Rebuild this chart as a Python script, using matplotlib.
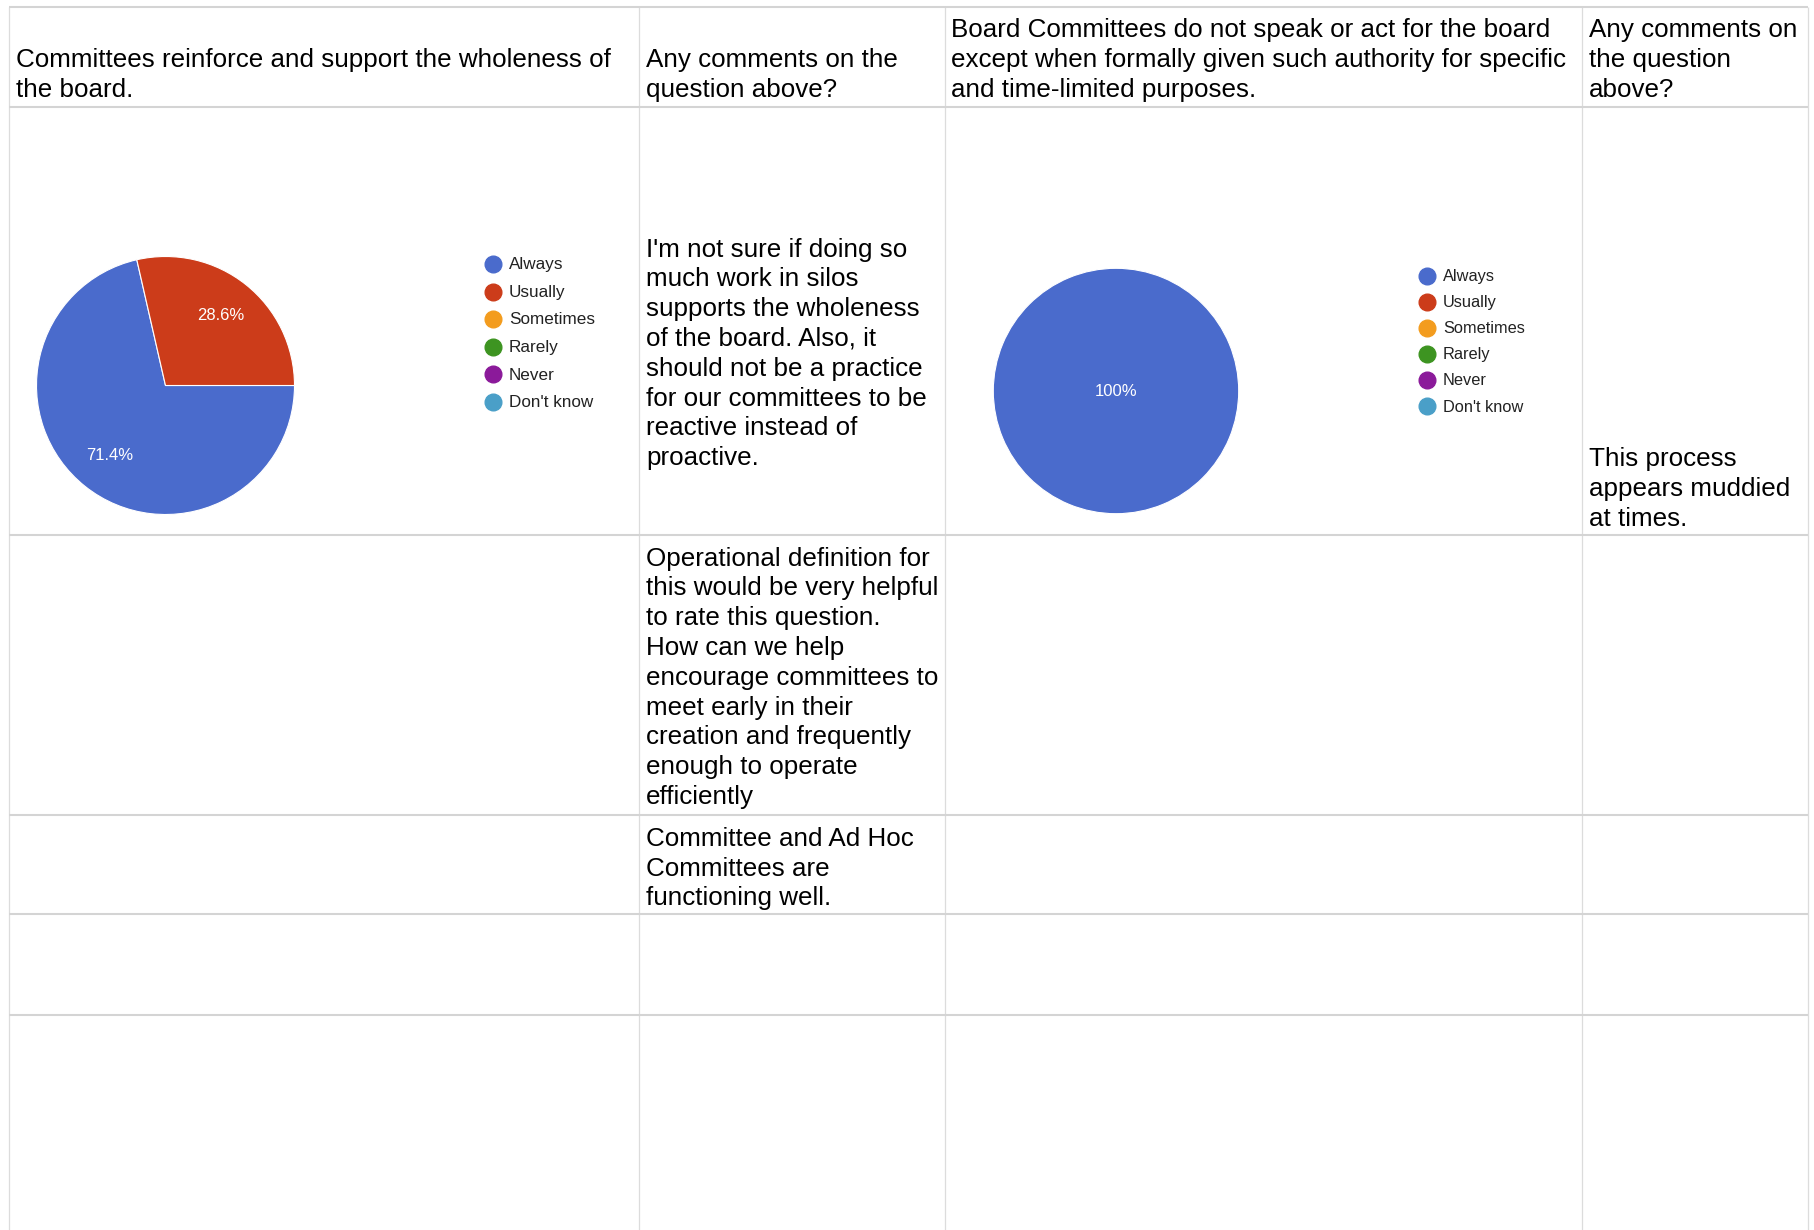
import matplotlib.pyplot as plt

plt.rcParams['font.family'] = ['Liberation Sans', 'DejaVu Sans']

# answer categories and colours used by both pies
categories = ["Always", "Usually", "Sometimes", "Rarely", "Never", "Don't know"]
slice_colors = ['#4a6bcc', '#cc3c1a', '#f39c1e', '#3d9421', '#8b1a9a', '#4a9fc8']
q1_counts = [5, 2, 0, 0, 0, 0]   # 71.4% / 28.6%
q2_counts = [7, 0, 0, 0, 0, 0]   # 100%

headers = [
    ["Committees reinforce and support the wholeness of", "the board."],
    ["Any comments on the", "question above?"],
    ["Board Committees do not speak or act for the board",
     "except when formally given such authority for specific",
     "and time-limited purposes."],
    ["Any comments on", "the question", "above?"],
]
q1_comments = [
    ["I'm not sure if doing so", "much work in silos", "supports the wholeness",
     "of the board. Also, it", "should not be a practice", "for our committees to be",
     "reactive instead of", "proactive."],
    ["Operational definition for", "this would be very helpful", "to rate this question.",
     "How can we help", "encourage committees to", "meet early in their",
     "creation and frequently", "enough to operate", "efficiently"],
    ["Committee and Ad Hoc", "Committees are", "functioning well."],
]
q2_comments = [["This process", "appears muddied", "at times."]]

W, H = 1815, 1230
fig = plt.figure(figsize=(W / 100, H / 100), dpi=100)
ax = fig.add_axes([0, 0, 1, 1])
ax.set_xlim(0, W)
ax.set_ylim(H, 0)
ax.axis('off')

# grid of the sheet
col_x = [9, 639, 945, 1582, 1808]
row_y = [7, 106.5, 535, 815, 914, 1015]
for x in col_x:
    ax.plot([x, x], [row_y[0], H], color='#dcdcdc', lw=0.9, solid_capstyle='butt')
for y in row_y:
    ax.plot([col_x[0], col_x[-1]], [y, y], color='#d4d4d4', lw=1.5, solid_capstyle='butt')

TXT = 18.7
STEP = 29.8
DY = 3  # small nudge so the text sits like the sheet's
text_x = [16, 646, 951.5, 1589]


def put_lines(x, y0, lines):
    for i, s in enumerate(lines):
        ax.text(x, y0 + DY + i * STEP, s, fontsize=TXT, va='center', ha='left', color='black')


# header row, bottom aligned
for x, lines in zip(text_x, headers):
    put_lines(x, 87 - (len(lines) - 1) * STEP, lines)

# comment cells
put_lines(text_x[1], 246.5, q1_comments[0])
put_lines(text_x[1], 555.6, q1_comments[1])
put_lines(text_x[1], 835.7, q1_comments[2])
put_lines(text_x[3], 456, q2_comments[0])


def draw_pie(counts, cx, cy, r, lx, ly0, lstep, lfs):
    pax = fig.add_axes([(cx - r) / W, (H - cy - r) / H, 2 * r / W, 2 * r / H])
    vals = [c for c in counts if c > 0]
    cols = [c for c, n in zip(slice_colors, counts) if n > 0]
    pax.pie(vals, colors=cols, startangle=0, counterclock=False,
            autopct=lambda p: '{:.3g}%'.format(p),
            pctdistance=0.69 if len(vals) > 1 else 0,
            wedgeprops=dict(edgecolor='white', linewidth=0.8),
            textprops=dict(color='white', fontsize=12))
    pax.set_xlim(-1, 1)
    pax.set_ylim(-1, 1)
    for i, (cat, col) in enumerate(zip(categories, slice_colors)):
        y = ly0 + i * lstep
        ax.plot(lx, y, 'o', ms=12, color=col, mec=col)
        ax.text(lx + 16, y + 1, cat, fontsize=lfs, va='center', ha='left', color='#222222')


draw_pie(q1_counts, 165.5, 385.5, 129, 493, 264, 27.5, 12.3)
draw_pie(q2_counts, 1116, 391, 122.7, 1427, 275.5, 26.1, 11.8)

fig.savefig('out.png', dpi=100)
